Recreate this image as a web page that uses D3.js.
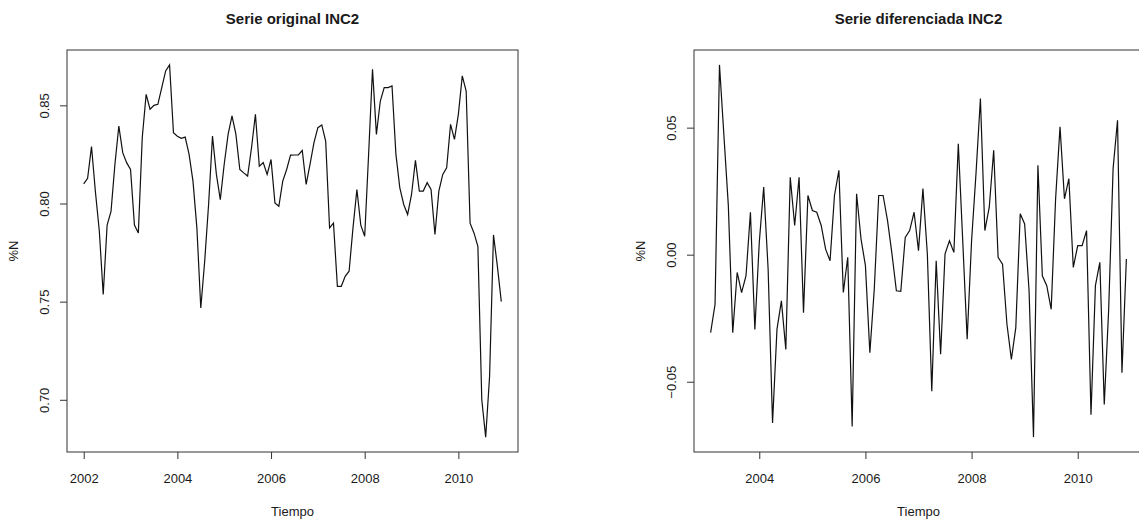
<!DOCTYPE html>
<html>
<head>
<meta charset="utf-8">
<script src="https://cdn.jsdelivr.net/npm/d3@7"></script>
<style>
  body { margin: 0; background: #fff; }
  text { font-family: "Liberation Sans", Arial, sans-serif; fill: #1a1a1a; }
</style>
</head>
<body>
<div id="chart"></div>
<script>
// monthly series, INC2 (%N)
var origStart = [2002, 1];
var origValues = [
  0.810, 0.8128, 0.829, 0.806, 0.786, 0.7536, 0.789, 0.796, 0.820, 0.8394, 0.8259, 0.8208,
  0.8173, 0.789, 0.785, 0.8335, 0.8556, 0.848, 0.850, 0.8505, 0.859, 0.8675, 0.8706, 0.836,
  0.8343, 0.8332, 0.8338, 0.825, 0.8114, 0.7876, 0.7468, 0.7706, 0.7995, 0.8343, 0.8148, 0.802,
  0.820, 0.8352, 0.8446, 0.8352, 0.8173, 0.8156, 0.814, 0.8284, 0.8454, 0.819, 0.8208, 0.8148,
  0.8224, 0.8003, 0.7986, 0.8114, 0.8173, 0.8246, 0.8247, 0.8247, 0.827, 0.8097, 0.820, 0.831,
  0.8386, 0.840, 0.8318, 0.7876, 0.790, 0.7578, 0.7578, 0.7629, 0.7655, 0.7876, 0.8071, 0.789,
  0.7833, 0.825, 0.8684, 0.8352, 0.8522, 0.859, 0.859, 0.8599, 0.825, 0.808, 0.7995, 0.7944,
  0.8046, 0.822, 0.8063, 0.8063, 0.8106, 0.8071, 0.7842, 0.8063, 0.8148, 0.8182, 0.8403, 0.8327,
  0.8454, 0.865, 0.8573, 0.790, 0.785, 0.7782, 0.700, 0.681, 0.712, 0.784, 0.768, 0.750
];

var diffStart = [2003, 2];
var diffValues = [
  -0.0307, -0.0195, 0.0747, 0.047, 0.0194, -0.0307, -0.007, -0.0149, -0.0083, 0.0167, -0.0294,
  0.0049, 0.0266, -0.0057, -0.0662, -0.0294, -0.0182, -0.0373, 0.0305, 0.0115, 0.0305, -0.0228,
  0.0233, 0.0174, 0.0167, 0.0115, 0.0022, -0.0024, 0.0233, 0.0332, -0.0149, -0.001,
  -0.0676, 0.024, 0.0062, -0.0043, -0.0386, -0.0136, 0.0233, 0.0233, 0.0134, 0.0003, -0.0142,
  -0.0144, 0.0068, 0.0095, 0.0167, 0.0016, 0.026, 0.0003, -0.0537, -0.0024, -0.0392, 0.0003,
  0.0055, 0.0009, 0.0437, 0.0055, -0.0333, 0.0055, 0.0319, 0.0615, 0.0095, 0.0187, 0.0411,
  -0.001, -0.0037, -0.0274, -0.0412, -0.0287, 0.0161, 0.0121, -0.0142, -0.0718, 0.0352,
  -0.0083, -0.0122, -0.0215, 0.022, 0.0503, 0.022, 0.0299, -0.005, 0.0036, 0.0036, 0.0095,
  -0.063, -0.0122, -0.003, -0.059, -0.0215, 0.0339, 0.0529, -0.0465, -0.0017
];

var origXTicks = [2002, 2004, 2006, 2008, 2010];
var origYTicks = [0.70, 0.75, 0.80, 0.85];
var diffXTicks = [2004, 2006, 2008, 2010];
var diffYTicks = [-0.05, 0.00, 0.05];

var width = 1139, height = 521;

var svg = d3.select("#chart")
  .append("svg")
  .attr("width", width)
  .attr("height", height)
  .style("background", "#fff");

function toSeries(start, values) {
  return values.map(function (v, i) {
    return { t: start[0] + (start[1] - 1 + i) / 12, v: v };
  });
}

// R-style 4% padding on both ends
function padded(ext) {
  var p = (ext[1] - ext[0]) * 0.04;
  return [ext[0] - p, ext[1] + p];
}

function drawPanel(opts) {
  var data = toSeries(opts.start, opts.values);
  var b = opts.box;

  var x = d3.scaleLinear()
    .domain(padded(d3.extent(data, function (d) { return d.t; })))
    .range([b.left, b.right]);
  var y = d3.scaleLinear()
    .domain(padded(d3.extent(data, function (d) { return d.v; })))
    .range([b.bottom, b.top]);

  var g = svg.append("g");

  g.append("path")
    .datum(data)
    .attr("fill", "none")
    .attr("stroke", "#111")
    .attr("stroke-width", 1.2)
    .attr("stroke-linejoin", "miter")
    .attr("d", d3.line()
      .x(function (d) { return x(d.t); })
      .y(function (d) { return y(d.v); }));

  // x axis below the box
  var xAxis = g.append("g")
    .attr("transform", "translate(0," + b.bottom + ")")
    .call(d3.axisBottom(x).tickValues(opts.xTicks).tickSize(7).tickPadding(15)
      .tickFormat(d3.format("d")));
  xAxis.select(".domain").remove();
  xAxis.selectAll("line").attr("stroke", "#333");
  xAxis.selectAll("text").attr("font-size", 13).attr("fill", "#1a1a1a")
    .attr("font-family", "Liberation Sans, Arial, sans-serif");

  // y axis with rotated labels
  var yAxis = g.append("g")
    .attr("transform", "translate(" + b.left + ",0)")
    .call(d3.axisLeft(y).tickValues(opts.yTicks).tickSize(7)
      .tickFormat(d3.format(".2f")));
  yAxis.select(".domain").remove();
  yAxis.selectAll("line").attr("stroke", "#333");
  yAxis.selectAll("text")
    .attr("font-size", 13).attr("fill", "#1a1a1a")
    .attr("font-family", "Liberation Sans, Arial, sans-serif")
    .attr("x", null).attr("dy", null)
    .attr("text-anchor", "middle")
    .attr("transform", "translate(-18,0) rotate(-90)");

  g.append("rect")
    .attr("x", b.left).attr("y", b.top)
    .attr("width", b.right - b.left).attr("height", b.bottom - b.top)
    .attr("fill", "none").attr("stroke", "#333").attr("stroke-width", 1);

  var cx = (b.left + b.right) / 2;
  g.append("text")
    .attr("x", cx).attr("y", 24)
    .attr("text-anchor", "middle")
    .attr("font-size", 15).attr("font-weight", "bold")
    .text(opts.title);

  g.append("text")
    .attr("x", cx).attr("y", 516)
    .attr("text-anchor", "middle")
    .attr("font-size", 13)
    .text("Tiempo");

  g.append("text")
    .attr("transform", "translate(" + (b.left - 49) + "," + ((b.top + b.bottom) / 2) + ") rotate(-90)")
    .attr("text-anchor", "middle")
    .attr("font-size", 13)
    .text("%N");
}

drawPanel({
  title: "Serie original INC2",
  start: origStart, values: origValues,
  xTicks: origXTicks, yTicks: origYTicks,
  box: { left: 67, right: 518, top: 50, bottom: 452 }
});

drawPanel({
  title: "Serie diferenciada INC2",
  start: diffStart, values: diffValues,
  xTicks: diffXTicks, yTicks: diffYTicks,
  box: { left: 694, right: 1143, top: 50, bottom: 452 }
});
</script>
</body>
</html>
